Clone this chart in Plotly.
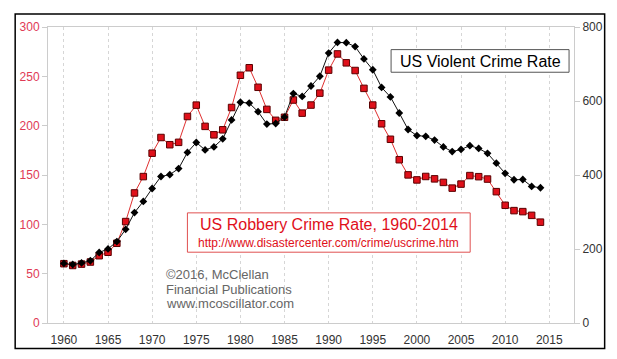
import plotly.graph_objects as go

years = list(range(1960, 2015))
robbery = [60.1, 58.3, 59.7, 61.8, 68.2, 71.7, 80.8, 102.8, 131.8, 148.4,
           172.1, 188.0, 180.7, 183.1, 209.3, 220.8, 199.3, 190.7, 195.8, 218.4,
           251.1, 258.7, 238.9, 216.5, 205.4, 208.5, 226.0, 212.7, 220.9, 233.0,
           256.3, 272.7, 263.7, 255.9, 237.8, 220.9, 201.9, 186.2, 165.5, 150.1,
           145.0, 148.5, 146.1, 142.5, 136.7, 140.8, 149.4, 148.3, 145.9, 133.1,
           119.3, 113.9, 112.9, 109.1, 102.2]
violent = [160.9, 158.1, 162.3, 168.2, 190.6, 200.2, 220.0, 253.2, 298.4, 328.7,
           363.5, 396.0, 401.0, 417.4, 461.1, 487.8, 467.8, 475.9, 497.8, 548.9,
           596.6, 594.3, 571.1, 537.7, 539.2, 556.6, 620.1, 612.5, 640.6, 666.9,
           729.6, 758.2, 757.7, 747.1, 713.6, 684.5, 636.6, 611.0, 567.6, 523.0,
           506.5, 504.5, 494.4, 475.8, 463.2, 469.0, 479.3, 471.8, 458.6, 431.9,
           404.5, 387.1, 387.8, 369.1, 365.5]
x_ticks = list(range(1960, 2016, 5))
left_ticks = [0, 50, 100, 150, 200, 250, 300]
right_ticks = [0, 200, 400, 600, 800]

FONT = "Liberation Sans, Arial, sans-serif"
RED = "#e0101a"
LABEL_RED = "#e03a55"

fig = go.Figure()
fig.add_trace(go.Scatter(
    x=years, y=violent, yaxis="y2", mode="lines+markers",
    line=dict(color="#111111", width=1),
    marker=dict(symbol="diamond", size=6, color="#000000"),
    showlegend=False))
fig.add_trace(go.Scatter(
    x=years, y=robbery, mode="lines+markers",
    line=dict(color="#e03030", width=1),
    marker=dict(symbol="square", size=6.5, color=RED,
                line=dict(color="#5a0000", width=1)),
    showlegend=False))

# page has an 8px body margin; work in page pixels and convert
OFF = 8
W, H = 617 - OFF, 359 - OFF
PL, PR, PT, PB = 42, 574, 22, 323          # plot area in page pixels
L, R, T, B = PL - OFF, W - (PR - OFF), PT - OFF, H - (PB - OFF)
pw, ph = PR - PL, PB - PT

def px(x):
    return (x - PL) / pw

def py(y):
    return (PB - y) / ph

shapes = [
    dict(type="rect", xref="paper", yref="paper",
         x0=px(OFF + 0.8), x1=px(605), y0=py(349), y1=py(OFF + 0.8),
         line=dict(color="#000000", width=1.5), fillcolor="rgba(0,0,0,0)",
         layer="above"),
    dict(type="rect", xref="paper", yref="paper",
         x0=px(389), x1=px(569), y0=py(68), y1=py(45),
         line=dict(color="#555555", width=1), fillcolor="white", layer="above"),
    dict(type="rect", xref="paper", yref="paper",
         x0=px(183), x1=px(469), y0=py(251), y1=py(211),
         line=dict(color="#e05050", width=1), fillcolor="white", layer="above"),
]

def note(text, x, y, size, color, anchor="center"):
    return dict(xref="paper", yref="paper", x=px(x), y=py(y),
                xanchor=anchor, yanchor="middle", showarrow=False, text=text,
                font=dict(family=FONT, size=size, color=color))

annotations = [
    note("US Violent Crime Rate", 479, 57, 16, "#000000"),
    note("US Robbery Crime Rate, 1960-2014", 326, 223, 16, RED),
    note("http://www.disastercenter.com/crime/uscrime.htm", 326, 242, 12, RED),
    note("©2016, McClellan", 159, 274, 13, "#666666", "left"),
    note("Financial Publications", 159, 288.5, 13, "#666666", "left"),
    note("www.mcoscillator.com", 159, 303, 13, "#666666", "left"),
]

fig.update_layout(
    width=W, height=H,
    margin=dict(l=L, r=R, t=T, b=B),
    paper_bgcolor="white", plot_bgcolor="white",
    font=dict(family=FONT, size=12, color="#333333"),
    xaxis=dict(range=[1958.2, 2017.8], tickvals=x_ticks,
               showgrid=True, gridcolor="#d6d6d6", griddash="dot", gridwidth=1,
               showline=True, linecolor="#cccccc", mirror=True, linewidth=1,
               ticks="", ticklabelstandoff=6, zeroline=False,
               tickfont=dict(family=FONT, size=12, color="#333333")),
    yaxis=dict(range=[0, 300], tickvals=left_ticks, showgrid=False,
               showline=True, linecolor="#cccccc", mirror=True, linewidth=1,
               ticks="outside", ticklen=5, tickcolor="#cccccc", zeroline=False,
               tickfont=dict(family=FONT, size=12, color=LABEL_RED)),
    yaxis2=dict(range=[0, 800], tickvals=right_ticks, overlaying="y", side="right",
                showgrid=False, showline=True, linecolor="#cccccc", linewidth=1,
                ticks="outside", ticklen=5, tickcolor="#cccccc", zeroline=False,
                tickfont=dict(family=FONT, size=12, color="#333333")),
    shapes=shapes,
    annotations=annotations,
)

fig.write_html("out.html")
